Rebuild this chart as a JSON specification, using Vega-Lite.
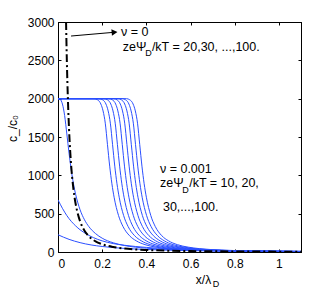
{
  "$schema": "https://vega.github.io/schema/vega-lite/v6.json",
  "width": 243,
  "height": 230,
  "autosize": {"type": "none"},
  "padding": {"left": 58, "top": 22, "right": 31, "bottom": 40},
  "background": "white",
  "config": {
    "view": {"stroke": "black", "strokeWidth": 1},
    "font": "Liberation Sans",
    "axis": {
      "domainColor": "black", "tickColor": "black", "labelColor": "black", "titleColor": "black",
      "grid": false, "labelFont": "Liberation Sans", "labelFontSize": 12,
      "titleFont": "Liberation Sans", "titleFontSize": 12, "titleFontWeight": "normal",
      "tickSize": -3
    }
  },
  "datasets": {
    "blue": [
      {"s":"e","x":0,"y":2000},{"s":"e","x":0.01,"y":1990},{"s":"e","x":0.02,"y":1930},{"s":"e","x":0.03,"y":1780},{"s":"e","x":0.04,"y":1540},{"s":"e","x":0.05,"y":1290},{"s":"e","x":0.06,"y":1070},{"s":"e","x":0.07,"y":890},{"s":"e","x":0.08,"y":750},{"s":"e","x":0.09,"y":640},{"s":"e","x":0.1,"y":550},{"s":"e","x":0.12,"y":420},{"s":"e","x":0.14,"y":330},{"s":"e","x":0.17,"y":240},{"s":"e","x":0.2,"y":180},{"s":"e","x":0.25,"y":120},{"s":"e","x":0.3,"y":85},{"s":"e","x":0.4,"y":50},{"s":"e","x":0.5,"y":33},{"s":"e","x":0.6,"y":23},{"s":"e","x":0.8,"y":12},{"s":"e","x":1.1,"y":6},
      {"s":"a","x":0,"y":680},{"s":"a","x":0.02,"y":570},{"s":"a","x":0.04,"y":475},{"s":"a","x":0.06,"y":400},{"s":"a","x":0.08,"y":340},{"s":"a","x":0.1,"y":290},{"s":"a","x":0.13,"y":232},{"s":"a","x":0.16,"y":188},{"s":"a","x":0.2,"y":145},{"s":"a","x":0.25,"y":110},{"s":"a","x":0.3,"y":88},{"s":"a","x":0.4,"y":60},{"s":"a","x":0.5,"y":42},{"s":"a","x":0.6,"y":30},{"s":"a","x":0.8,"y":17},{"s":"a","x":1.1,"y":8},
      {"s":"b","x":0,"y":225},{"s":"b","x":0.05,"y":165},{"s":"b","x":0.1,"y":122},{"s":"b","x":0.15,"y":92},{"s":"b","x":0.2,"y":72},{"s":"b","x":0.3,"y":47},{"s":"b","x":0.4,"y":33},{"s":"b","x":0.5,"y":24},{"s":"b","x":0.6,"y":18},{"s":"b","x":0.8,"y":10},{"s":"b","x":1.1,"y":5},
      {"s":"s1","x":0,"y":2000},{"s":"s1","x":0.164,"y":2000},{"s":"s1","x":0.179,"y":1985},{"s":"s1","x":0.194,"y":1930},{"s":"s1","x":0.204,"y":1840},{"s":"s1","x":0.214,"y":1680},{"s":"s1","x":0.224,"y":1400},{"s":"s1","x":0.234,"y":1120},{"s":"s1","x":0.244,"y":890},{"s":"s1","x":0.254,"y":714},{"s":"s1","x":0.274,"y":476},{"s":"s1","x":0.294,"y":334},{"s":"s1","x":0.324,"y":212},{"s":"s1","x":0.354,"y":146},{"s":"s1","x":0.394,"y":96},{"s":"s1","x":0.444,"y":63},{"s":"s1","x":0.494,"y":44},{"s":"s1","x":0.594,"y":25},{"s":"s1","x":0.694,"y":16.5},{"s":"s1","x":0.894,"y":8.8},{"s":"s1","x":1.1,"y":5.5},
      {"s":"s2","x":0,"y":2000},{"s":"s2","x":0.187,"y":2000},{"s":"s2","x":0.202,"y":1985},{"s":"s2","x":0.217,"y":1930},{"s":"s2","x":0.227,"y":1840},{"s":"s2","x":0.237,"y":1680},{"s":"s2","x":0.247,"y":1400},{"s":"s2","x":0.257,"y":1120},{"s":"s2","x":0.267,"y":890},{"s":"s2","x":0.277,"y":714},{"s":"s2","x":0.297,"y":476},{"s":"s2","x":0.317,"y":334},{"s":"s2","x":0.347,"y":212},{"s":"s2","x":0.377,"y":146},{"s":"s2","x":0.417,"y":96},{"s":"s2","x":0.467,"y":63},{"s":"s2","x":0.517,"y":44},{"s":"s2","x":0.617,"y":25},{"s":"s2","x":0.717,"y":16.5},{"s":"s2","x":0.917,"y":8.8},{"s":"s2","x":1.1,"y":5.8},
      {"s":"s3","x":0,"y":2000},{"s":"s3","x":0.209,"y":2000},{"s":"s3","x":0.224,"y":1985},{"s":"s3","x":0.239,"y":1930},{"s":"s3","x":0.249,"y":1840},{"s":"s3","x":0.259,"y":1680},{"s":"s3","x":0.269,"y":1400},{"s":"s3","x":0.279,"y":1120},{"s":"s3","x":0.289,"y":890},{"s":"s3","x":0.299,"y":714},{"s":"s3","x":0.319,"y":476},{"s":"s3","x":0.339,"y":334},{"s":"s3","x":0.369,"y":212},{"s":"s3","x":0.399,"y":146},{"s":"s3","x":0.439,"y":96},{"s":"s3","x":0.489,"y":63},{"s":"s3","x":0.539,"y":44},{"s":"s3","x":0.639,"y":25},{"s":"s3","x":0.739,"y":16.5},{"s":"s3","x":0.939,"y":8.8},{"s":"s3","x":1.1,"y":6.1},
      {"s":"s4","x":0,"y":2000},{"s":"s4","x":0.231,"y":2000},{"s":"s4","x":0.246,"y":1985},{"s":"s4","x":0.261,"y":1930},{"s":"s4","x":0.271,"y":1840},{"s":"s4","x":0.281,"y":1680},{"s":"s4","x":0.291,"y":1400},{"s":"s4","x":0.301,"y":1120},{"s":"s4","x":0.311,"y":890},{"s":"s4","x":0.321,"y":714},{"s":"s4","x":0.341,"y":476},{"s":"s4","x":0.361,"y":334},{"s":"s4","x":0.391,"y":212},{"s":"s4","x":0.421,"y":146},{"s":"s4","x":0.461,"y":96},{"s":"s4","x":0.511,"y":63},{"s":"s4","x":0.561,"y":44},{"s":"s4","x":0.661,"y":25},{"s":"s4","x":0.761,"y":16.5},{"s":"s4","x":0.961,"y":8.8},{"s":"s4","x":1.1,"y":6.4},
      {"s":"s5","x":0,"y":2000},{"s":"s5","x":0.252,"y":2000},{"s":"s5","x":0.267,"y":1985},{"s":"s5","x":0.282,"y":1930},{"s":"s5","x":0.292,"y":1840},{"s":"s5","x":0.302,"y":1680},{"s":"s5","x":0.312,"y":1400},{"s":"s5","x":0.322,"y":1120},{"s":"s5","x":0.332,"y":890},{"s":"s5","x":0.342,"y":714},{"s":"s5","x":0.362,"y":476},{"s":"s5","x":0.382,"y":334},{"s":"s5","x":0.412,"y":212},{"s":"s5","x":0.442,"y":146},{"s":"s5","x":0.482,"y":96},{"s":"s5","x":0.532,"y":63},{"s":"s5","x":0.582,"y":44},{"s":"s5","x":0.682,"y":25},{"s":"s5","x":0.782,"y":16.5},{"s":"s5","x":0.982,"y":8.8},{"s":"s5","x":1.1,"y":6.7},
      {"s":"s6","x":0,"y":2000},{"s":"s6","x":0.272,"y":2000},{"s":"s6","x":0.287,"y":1985},{"s":"s6","x":0.302,"y":1930},{"s":"s6","x":0.312,"y":1840},{"s":"s6","x":0.322,"y":1680},{"s":"s6","x":0.332,"y":1400},{"s":"s6","x":0.342,"y":1120},{"s":"s6","x":0.352,"y":890},{"s":"s6","x":0.362,"y":714},{"s":"s6","x":0.382,"y":476},{"s":"s6","x":0.402,"y":334},{"s":"s6","x":0.432,"y":212},{"s":"s6","x":0.462,"y":146},{"s":"s6","x":0.502,"y":96},{"s":"s6","x":0.552,"y":63},{"s":"s6","x":0.602,"y":44},{"s":"s6","x":0.702,"y":25},{"s":"s6","x":0.802,"y":16.5},{"s":"s6","x":1.002,"y":8.8},{"s":"s6","x":1.1,"y":7.0},
      {"s":"s7","x":0,"y":2000},{"s":"s7","x":0.291,"y":2000},{"s":"s7","x":0.306,"y":1985},{"s":"s7","x":0.321,"y":1930},{"s":"s7","x":0.331,"y":1840},{"s":"s7","x":0.341,"y":1680},{"s":"s7","x":0.351,"y":1400},{"s":"s7","x":0.361,"y":1120},{"s":"s7","x":0.371,"y":890},{"s":"s7","x":0.381,"y":714},{"s":"s7","x":0.401,"y":476},{"s":"s7","x":0.421,"y":334},{"s":"s7","x":0.451,"y":212},{"s":"s7","x":0.481,"y":146},{"s":"s7","x":0.521,"y":96},{"s":"s7","x":0.571,"y":63},{"s":"s7","x":0.621,"y":44},{"s":"s7","x":0.721,"y":25},{"s":"s7","x":0.821,"y":16.5},{"s":"s7","x":1.021,"y":8.8},{"s":"s7","x":1.1,"y":7.2},
      {"s":"s8","x":0,"y":2000},{"s":"s8","x":0.310,"y":2000},{"s":"s8","x":0.325,"y":1985},{"s":"s8","x":0.340,"y":1930},{"s":"s8","x":0.350,"y":1840},{"s":"s8","x":0.360,"y":1680},{"s":"s8","x":0.370,"y":1400},{"s":"s8","x":0.380,"y":1120},{"s":"s8","x":0.390,"y":890},{"s":"s8","x":0.400,"y":714},{"s":"s8","x":0.420,"y":476},{"s":"s8","x":0.440,"y":334},{"s":"s8","x":0.470,"y":212},{"s":"s8","x":0.500,"y":146},{"s":"s8","x":0.540,"y":96},{"s":"s8","x":0.590,"y":63},{"s":"s8","x":0.640,"y":44},{"s":"s8","x":0.740,"y":25},{"s":"s8","x":0.840,"y":16.5},{"s":"s8","x":1.040,"y":8.8},{"s":"s8","x":1.1,"y":7.5}
    ],
    "black": [
      {"x":0.0365,"y":3000},{"x":0.04,"y":2501},{"x":0.045,"y":1977},{"x":0.05,"y":1601},{"x":0.06,"y":1112},{"x":0.07,"y":818},{"x":0.08,"y":626},{"x":0.09,"y":495},{"x":0.1,"y":401},{"x":0.12,"y":278},{"x":0.14,"y":205},{"x":0.17,"y":139},{"x":0.2,"y":101},{"x":0.25,"y":65},{"x":0.3,"y":45},{"x":0.35,"y":33},{"x":0.4,"y":26},{"x":0.5,"y":17},{"x":0.6,"y":12},{"x":0.7,"y":9},{"x":0.8,"y":7},{"x":0.9,"y":5.6},{"x":1.0,"y":4.7},{"x":1.1,"y":4}
    ],
    "labels": [
      {"x":0.285,"y":2870,"t":"ν = 0"},
      {"x":0.293,"y":2674,"t":"zeΨ"},
      {"x":0.425,"y":2674,"t":"/kT = 20,30, ...,100."},
      {"x":0.4615,"y":1083,"t":"ν = 0.001"},
      {"x":0.4615,"y":900,"t":"zeΨ"},
      {"x":0.594,"y":900,"t":"/kT = 10, 20,"},
      {"x":0.475,"y":587,"t":"30,...,100."}
    ],
    "subs": [
      {"x":0.395,"y":2600,"t":"D"},
      {"x":0.563,"y":812,"t":"D"},
      {"x":0.700,"y":-417,"t":"D"}
    ]
  },
  "layer": [
    {
      "data": {"name": "blue"},
      "mark": {"type": "line", "stroke": "#2b4fff", "strokeWidth": 1, "interpolate": "monotone", "clip": true},
      "encoding": {
        "x": {"field": "x", "type": "quantitative", "scale": {"domain": [0, 1.1], "nice": false, "zero": false},
              "axis": {"orient": "bottom", "values": [0, 0.2, 0.4, 0.6, 0.8, 1], "format": "~g", "title": "x/λ", "labelPadding": 9,
                       "titleX": 145, "titleY": 27, "titleAlign": "center", "titleBaseline": "middle"}},
        "y": {"field": "y", "type": "quantitative", "scale": {"domain": [0, 3000], "nice": false},
              "axis": {"orient": "left", "values": [0, 500, 1000, 1500, 2000, 2500, 3000], "format": "d", "title": "c_/c₀", "labelPadding": 7,
                       "titleX": -46, "titleY": 106, "titleAlign": "center", "titleBaseline": "middle", "titleAngle": -90}},
        "detail": {"field": "s"}
      }
    },
    {
      "data": {"name": "black"},
      "mark": {"type": "line", "stroke": "black", "strokeWidth": 2, "strokeDash": [8, 3, 2, 3], "interpolate": "monotone", "clip": true},
      "encoding": {
        "x": {"field": "x", "type": "quantitative",
              "axis": {"orient": "top", "values": [0, 0.2, 0.4, 0.6, 0.8, 1], "labels": false, "title": null}},
        "y": {"field": "y", "type": "quantitative",
              "axis": {"orient": "right", "values": [0, 500, 1000, 1500, 2000, 2500, 3000], "labels": false, "title": null}}
      }
    },
    {
      "data": {"values": [{"x": 0.059, "y": 2817, "x2": 0.255, "y2": 2866}]},
      "mark": {"type": "rule", "color": "black", "strokeWidth": 1},
      "encoding": {
        "x": {"field": "x", "type": "quantitative", "axis": null},
        "y": {"field": "y", "type": "quantitative", "axis": null},
        "x2": {"field": "x2"},
        "y2": {"field": "y2"}
      }
    },
    {
      "data": {"values": [{"x": 0.256, "y": 2866}]},
      "mark": {"type": "point", "shape": "triangle-right", "filled": true, "color": "black", "size": 45, "angle": -5, "opacity": 1},
      "encoding": {
        "x": {"field": "x", "type": "quantitative", "axis": null},
        "y": {"field": "y", "type": "quantitative", "axis": null}
      }
    },
    {
      "data": {"name": "labels"},
      "mark": {"type": "text", "align": "left", "baseline": "middle", "font": "Liberation Sans", "fontSize": 12.5, "color": "black"},
      "encoding": {
        "x": {"field": "x", "type": "quantitative", "axis": null},
        "y": {"field": "y", "type": "quantitative", "axis": null},
        "text": {"field": "t"}
      }
    },
    {
      "data": {"name": "subs"},
      "mark": {"type": "text", "align": "left", "baseline": "middle", "font": "Liberation Sans", "fontSize": 9, "color": "black"},
      "encoding": {
        "x": {"field": "x", "type": "quantitative", "axis": null},
        "y": {"field": "y", "type": "quantitative", "axis": null},
        "text": {"field": "t"}
      }
    }
  ],
  "resolve": {"axis": {"x": "independent", "y": "independent"}}
}
